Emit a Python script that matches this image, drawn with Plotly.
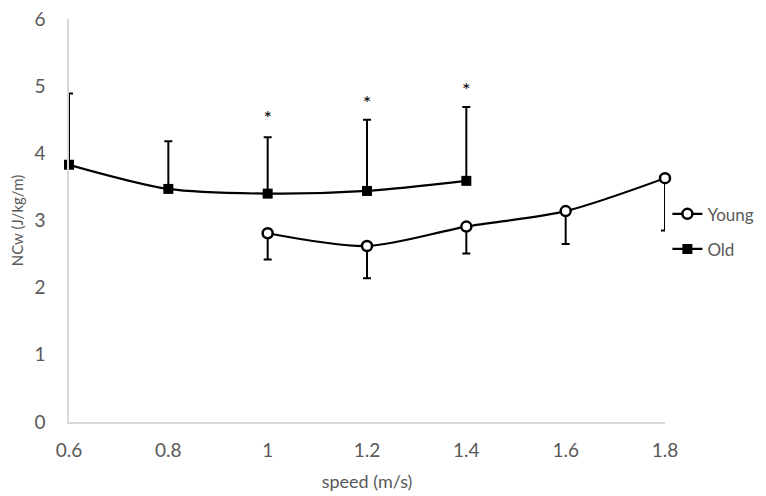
import plotly.graph_objects as go

speed_old = [0.6, 0.8, 1.0, 1.2, 1.4]
ncw_old = [3.83, 3.47, 3.40, 3.44, 3.59]
err_old_up = [1.06, 0.71, 0.84, 1.06, 1.10]

speed_young = [1.0, 1.2, 1.4, 1.6, 1.8]
ncw_young = [2.81, 2.62, 2.91, 3.14, 3.63]
err_young_down = [0.39, 0.48, 0.40, 0.49, 0.78]

star_x = [1.0, 1.2, 1.4]
star_y = [4.50, 4.72, 4.91]

x_ticks = [0.6, 0.8, 1.0, 1.2, 1.4, 1.6, 1.8]
x_tick_labels = ["0.6", "0.8", "1", "1.2", "1.4", "1.6", "1.8"]
y_ticks = [0, 1, 2, 3, 4, 5, 6]

FONT = "Lato, sans-serif"
GREY = "#595959"

fig = go.Figure()
fig.add_trace(go.Scatter(
    x=speed_young, y=ncw_young, name="Young", mode="lines+markers", legendgroup="y",
    line=dict(color="black", width=2.2, shape="spline", smoothing=0.8),
    marker=dict(symbol="circle", size=10, color="white", line=dict(color="black", width=2.5)),
    error_y=dict(type="data", symmetric=False, array=[0]*len(err_young_down),
                 arrayminus=err_young_down, color="black", thickness=2, width=4),
    cliponaxis=False,
))
fig.add_trace(go.Scatter(
    x=speed_old, y=ncw_old, name="Old", mode="lines+markers", legendgroup="o",
    line=dict(color="black", width=2.2, shape="spline", smoothing=0.8),
    marker=dict(symbol="square", size=10, color="black"),
    error_y=dict(type="data", symmetric=False, array=err_old_up,
                 arrayminus=[0]*len(err_old_up), color="black", thickness=2, width=4),
    cliponaxis=False,
))
fig.add_trace(go.Scatter(
    x=star_x, y=star_y, mode="text", text=["*"]*len(star_x), showlegend=False,
    textfont=dict(family=FONT, size=20, color="black"),
    hoverinfo="skip", cliponaxis=False,
))

fig.update_layout(
    width=766, height=496,
    margin=dict(l=61, r=109, t=11, b=82),
    paper_bgcolor="white", plot_bgcolor="white",
    font=dict(family=FONT, color=GREY, size=18),
    legend=dict(x=1.004, xanchor="left", y=0.56, yanchor="top",
                font=dict(size=17, color=GREY), itemwidth=30,
                traceorder="grouped", tracegroupgap=10, bgcolor="rgba(0,0,0,0)"),
    xaxis=dict(range=[0.6, 1.8], tickvals=x_ticks, ticktext=x_tick_labels,
               showgrid=False, zeroline=False, showline=True, linecolor="#d9d9d9",
               linewidth=1.5, ticks="", ticklabelstandoff=10, automargin=False,
               tickfont=dict(size=19, color=GREY),
               title=dict(text="speed (m/s)", font=dict(size=18, color=GREY), standoff=16)),
    yaxis=dict(range=[0, 6], tickvals=y_ticks, showgrid=False, zeroline=False,
               showline=True, linecolor="#d9d9d9", linewidth=1.5, ticks="",
               ticklabelstandoff=18, ticklabeloverflow="allow", automargin=False,
               tickfont=dict(size=19, color=GREY),
               title=dict(text="NCw (J/kg/m)", font=dict(size=15, color=GREY), standoff=12)),
)

fig.write_html("out.html")
